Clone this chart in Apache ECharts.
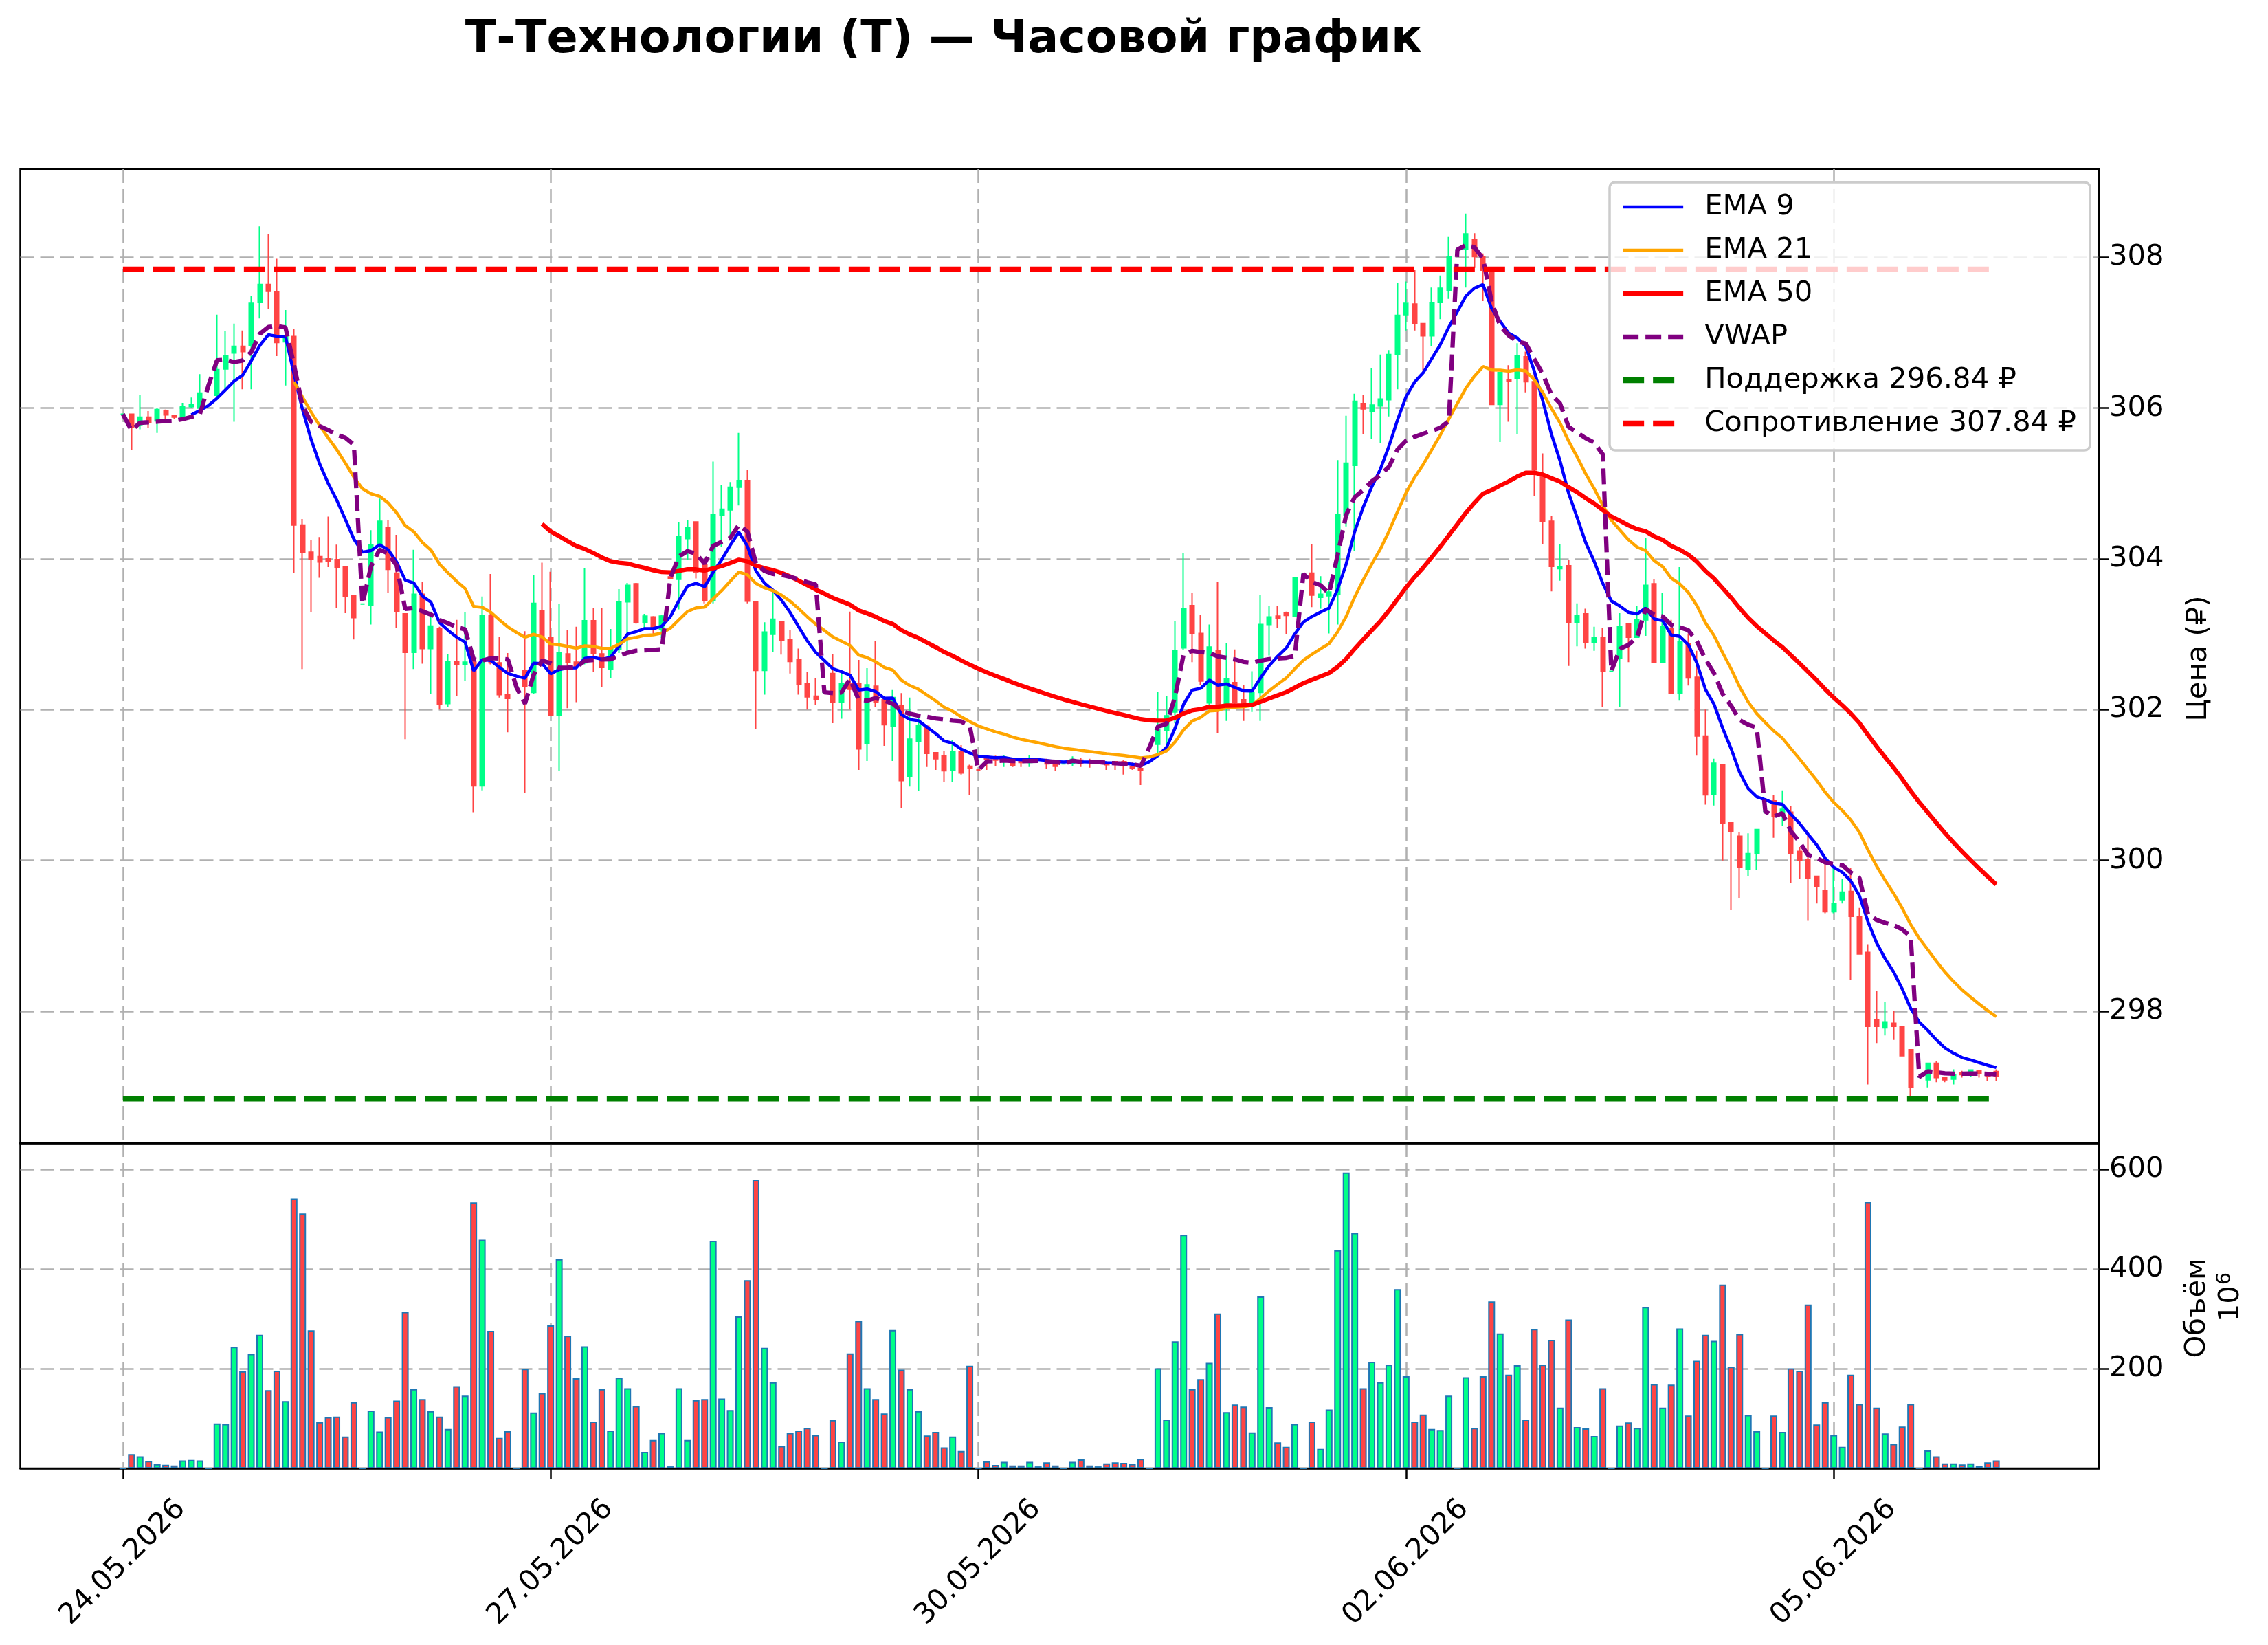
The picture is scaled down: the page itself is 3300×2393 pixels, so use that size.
<!DOCTYPE html>
<html>
<head>
<meta charset="utf-8">
<script src="https://cdn.jsdelivr.net/npm/echarts@6/dist/echarts.min.js"></script>
<style>
  html, body { margin: 0; padding: 0; background: #fff; }
  #chart { width: 3300px; height: 2393px; }
</style>
</head>
<body>
<div id="chart"></div>
<script>
// hourly candles, one slot per candle (slot 0 = first candle of 24.05.2026)
const opens = [
  305.92,305.92,305.78,305.88,305.83,305.97,305.90,305.85,306.02,306.00,
  306.30,306.17,306.52,306.73,306.82,306.83,307.40,307.64,307.54,306.88,306.95,304.45,304.09,304.03,304.00,303.99,303.89,303.51,
  303.40,303.38,304.19,304.42,303.81,303.27,302.76,303.53,302.81,303.07,302.08,302.64,302.60,302.63,300.99,303.25,302.62,302.20,
  302.30,302.52,302.23,303.31,302.96,301.93,302.74,302.63,302.62,303.18,302.74,302.54,302.80,303.43,303.67,303.16,303.23,303.07,
  303.76,303.73,304.27,304.49,303.92,303.45,304.58,304.65,304.95,305.04,303.43,302.52,303.00,303.17,302.93,302.67,302.35,302.18,
  302.23,302.48,302.10,302.35,302.35,301.55,302.31,302.13,301.78,302.05,301.11,301.58,301.78,301.43,301.39,301.20,301.44,301.25,
  301.20,301.38,301.36,301.33,301.32,301.33,301.30,301.35,301.33,301.29,
  301.28,301.29,301.33,301.31,301.30,301.30,301.31,301.31,301.25,301.22,
  301.50,301.54,301.72,301.97,302.82,303.38,303.01,302.09,302.78,302.08,302.36,302.13,302.08,302.23,303.13,303.24,303.28,303.24,
  303.80,303.81,303.49,303.51,303.53,304.58,305.24,306.06,305.96,306.03,306.11,306.71,307.24,307.38,307.12,306.96,307.40,307.56,
  308.10,308.11,308.24,308.01,307.83,306.05,306.38,306.39,306.68,306.35,305.10,304.50,303.87,303.91,303.16,303.27,302.89,302.96,
  302.51,302.68,303.14,302.96,303.19,303.67,302.63,303.08,302.22,302.87,302.43,301.65,300.88,301.27,300.50,300.32,299.88,300.09,
  300.65,300.79,300.63,300.64,300.12,300.01,299.79,299.60,299.32,299.48,299.59,299.25,298.78,297.89,297.78,297.84,297.80,297.49,
  297.13,297.09,297.31,297.12,297.10,297.19,297.19,297.21,297.18,297.20
];
const closes = [
  305.92,305.75,305.88,305.81,305.98,305.91,305.88,306.02,306.05,306.20,
  306.30,306.51,306.69,306.82,306.75,307.39,307.64,307.55,306.87,306.95,304.45,304.09,304.00,303.96,303.97,303.89,303.50,303.22,
  303.40,304.19,304.50,303.86,303.30,302.76,303.53,302.81,303.11,302.07,302.64,302.60,302.63,300.99,303.25,302.62,302.20,302.15,
  302.30,302.31,303.41,302.60,301.93,302.76,302.63,302.57,303.18,302.75,302.56,302.80,303.43,303.65,303.16,303.24,303.07,303.24,
  303.74,304.30,304.41,303.82,303.45,304.59,304.66,304.95,305.04,303.44,302.52,303.03,303.20,302.92,302.64,302.34,302.17,302.14,
  302.23,302.10,302.35,302.27,301.48,302.33,302.10,301.80,302.16,301.06,301.61,301.79,301.42,301.35,301.19,301.44,301.16,301.22,
  301.20,301.34,301.33,301.37,301.26,301.30,301.35,301.34,301.28,301.25,
  301.28,301.34,301.29,301.30,301.29,301.27,301.28,301.28,301.22,301.20,
  301.50,301.73,301.92,302.78,303.34,303.01,302.38,302.83,302.05,302.41,302.10,302.08,302.23,303.13,303.23,303.21,303.25,303.75,
  303.80,303.52,303.53,303.56,304.59,305.27,306.09,305.99,306.04,306.12,306.71,307.23,307.39,307.12,306.96,307.40,307.59,308.01,
  308.10,308.31,308.01,307.83,306.05,306.47,306.36,306.69,306.35,305.18,304.50,303.90,303.90,303.16,303.25,302.89,302.96,302.51,
  302.51,303.10,302.96,303.19,303.65,302.63,303.10,302.22,302.90,302.42,301.65,300.87,301.29,300.50,300.38,299.91,300.09,300.41,
  300.65,300.58,300.68,300.09,300.00,299.77,299.65,299.32,299.43,299.58,299.26,298.76,297.80,297.80,297.86,297.80,297.41,296.99,
  297.13,297.31,297.12,297.09,297.16,297.16,297.22,297.18,297.14,297.14
];
const lows = [
  305.92,305.45,305.72,305.74,305.67,305.84,305.85,305.83,306.00,305.98,
  306.30,306.15,306.25,305.82,306.25,306.25,307.19,307.31,306.69,306.30,303.81,302.54,303.29,303.75,303.89,303.35,303.28,302.93,
  303.40,303.13,304.12,303.55,303.08,301.61,302.54,302.61,302.21,302.00,302.03,302.18,302.38,300.64,300.93,302.60,302.16,301.70,
  302.30,300.89,302.21,302.58,301.92,301.19,302.02,302.10,302.60,302.50,302.30,302.42,302.75,302.75,303.14,303.06,302.98,302.95,
  303.74,303.33,303.99,303.74,303.41,303.41,304.16,304.30,304.71,303.41,301.74,302.20,302.76,302.73,302.48,302.20,302.00,302.06,
  302.23,301.82,301.88,302.00,301.20,301.32,302.04,301.52,301.32,300.70,300.98,300.92,301.24,301.20,301.04,301.04,301.14,300.87,
  301.20,301.20,301.25,301.24,301.24,301.24,301.24,301.33,301.22,301.19,
  301.28,301.25,301.24,301.23,301.28,301.20,301.20,301.14,301.20,301.00,
  301.50,301.36,301.54,301.82,302.79,302.63,302.33,302.05,301.69,301.85,302.08,301.85,301.97,301.85,302.72,303.08,303.00,303.23,
  303.80,303.36,303.34,303.01,303.13,304.43,304.11,305.66,305.59,305.54,305.89,306.25,307.03,307.03,306.50,306.82,307.18,307.45,
  308.10,307.60,307.86,307.42,306.04,305.55,305.82,305.65,306.21,304.84,304.20,303.57,303.71,302.58,302.84,302.81,302.78,302.04,
  302.51,302.04,302.63,302.96,302.98,302.63,302.62,302.22,302.12,302.32,301.39,300.74,300.73,300.00,299.34,299.50,299.79,299.88,
  300.65,300.30,300.46,299.70,299.76,299.20,299.43,299.30,299.30,299.43,298.41,298.76,297.03,297.58,297.68,297.62,297.41,296.87,
  297.13,296.99,297.06,297.06,297.03,297.12,297.13,297.12,297.08,297.07
];
const highs = [
  305.92,305.92,306.17,305.96,306.00,305.98,305.91,306.07,306.14,306.45,
  306.30,307.24,307.02,307.12,307.03,307.49,308.41,308.31,307.98,307.30,307.05,304.53,304.25,304.29,304.56,304.19,303.89,303.51,
  303.40,304.38,304.80,304.52,304.32,303.27,304.12,303.70,303.30,303.10,302.74,303.19,303.29,302.70,303.50,303.80,302.97,302.75,
  302.30,303.04,303.79,303.95,303.83,303.40,303.06,303.10,303.88,303.35,303.35,303.07,303.60,303.68,303.68,303.27,303.24,303.26,
  303.76,304.49,304.51,304.49,303.92,305.29,304.98,305.02,305.67,305.18,303.43,303.16,303.56,303.17,303.06,302.81,302.50,302.42,
  302.23,302.74,302.50,303.30,302.66,302.55,302.91,302.13,302.26,302.22,302.16,301.90,301.78,301.43,301.45,301.60,301.53,301.27,
  301.20,301.40,301.39,301.40,301.36,301.35,301.40,301.36,301.35,301.30,
  301.28,301.38,301.36,301.35,301.31,301.30,301.31,301.33,301.30,301.23,
  301.50,302.24,302.18,303.18,304.08,303.55,303.26,303.13,303.70,302.88,302.80,302.33,302.51,303.52,303.38,303.38,303.30,303.75,
  303.80,304.20,303.77,303.69,305.31,305.90,306.19,306.18,306.53,306.71,306.77,307.66,307.68,307.83,307.12,307.60,307.76,308.27,
  308.10,308.58,308.32,308.05,307.86,306.47,306.57,306.86,306.75,306.50,305.40,304.57,304.20,303.99,303.41,303.34,303.10,303.08,
  302.51,303.28,303.14,303.37,304.28,303.73,303.55,303.19,303.89,303.01,302.78,302.00,301.35,301.27,300.50,300.38,300.36,300.41,
  300.65,300.87,300.93,300.72,300.18,300.33,299.80,299.99,299.93,299.76,299.90,299.37,298.89,298.27,298.12,298.00,297.80,297.50,
  297.13,297.31,297.34,297.12,297.23,297.21,297.22,297.22,297.18,297.23
];
// volume, millions
const volumes = [
  0,28.6,24,14.7,8.8,7.4,6,16,17,16,
  0,90,89,244,195,230,268,157,196,135,542,512,277,93,103,104,64,133,
  0,116,74,103,136,314,159,139,115,104,79,165,146,534,459,276,61,75,
  0,200,112,151,287,420,266,181,245,94,159,76,182,161,125,33,57,71,
  4,161,57,137,139,457,140,117,305,378,580,242,173,45,71,76,81,67,
  0,97,54,231,296,161,139,110,278,198,159,115,66,73,42,64,35,206,
  0,14,7,13,6,6,13,4,12,6,
  0,13,18,6,4,10,12,11,9,19,
  0,201,98,255,469,159,179,212,311,113,128,124,72,345,123,52,43,89,
  0,94,39,118,438,594,473,161,214,173,208,360,185,94,108,79,77,146,
  0,183,81,185,335,271,188,207,98,280,208,258,122,299,83,80,65,161,
  0,86,92,81,324,169,122,168,281,106,216,268,256,369,204,270,107,75,
  0,106,73,201,196,329,88,133,67,43,188,129,535,122,70,49,84,129,
  0,36,24,10,10,8,10,5,12,16
];
// first slot of each trading day (VWAP resets there)
const dayStarts = [0, 10, 28, 46, 64, 82, 100, 110, 120, 138, 156, 174, 192, 210];
const tickSlots = [0, 50, 100, 150, 200];
const tickLabels = ['24.05.2026', '27.05.2026', '30.05.2026', '02.06.2026', '05.06.2026'];
const supportLevel = 296.84;
const resistanceLevel = 307.84;

const UP = '#00ff88', DOWN = '#ff4444';
const FONT = 'DejaVu Sans';
const FS = 41.7;

// x axis: category slots from -12 to 231, so slot s sits at index s + OFF
const X_MIN = -12, X_MAX = 231, OFF = -X_MIN;
const cats = [];
for (let s = X_MIN; s <= X_MAX; s++) cats.push(String(s));
const isTick = (idx) => tickSlots.indexOf(idx - OFF) >= 0;

// EMA seeded with the simple average of the first `span` closes
function ema(values, span) {
  const k = 2 / (span + 1);
  const out = [];
  let prev = 0;
  for (let i = 0; i < span; i++) prev += values[i] / span;
  out.push([span - 1 + OFF, prev]);
  for (let i = span; i < values.length; i++) {
    prev = k * values[i] + (1 - k) * prev;
    out.push([i + OFF, prev]);
  }
  return out;
}

function vwap() {
  const out = [];
  let pv = 0, vv = 0;
  for (let i = 0; i < closes.length; i++) {
    if (dayStarts.indexOf(i) >= 0) { pv = 0; vv = 0; }
    const tp = (highs[i] + lows[i] + closes[i]) / 3;
    pv += tp * volumes[i];
    vv += volumes[i];
    out.push([i + OFF, vv > 0 ? pv / vv : tp]);
  }
  return out;
}

const candleData = opens.map((o, i) => [i + OFF, o, closes[i], lows[i], highs[i]]);
const volData = volumes.map((v, i) => ({
  value: [i + OFF, v],
  itemStyle: { color: closes[i] >= opens[i] ? UP : DOWN }
}));
const lastX = opens.length - 1 + OFF;
const supportName = 'Поддержка ' + supportLevel.toFixed(2) + ' ₽';
const resistName = 'Сопротивление ' + resistanceLevel.toFixed(2) + ' ₽';

const gridLine = { show: true, lineStyle: { color: '#b0b0b0', width: 2.5, type: [20, 9] } };
const axisBlack = { show: true, lineStyle: { color: '#000', width: 2.5 } };
const legendItem = (name, w) => ({ name: name, itemStyle: { opacity: 0 }, lineStyle: { width: w } });

const chart = echarts.init(document.getElementById('chart'), null, { renderer: 'canvas' });
const option = {
  animation: false,
  backgroundColor: '#fff',
  textStyle: { fontFamily: FONT },
  grid: [
    { left: 29.5, top: 246, width: 3024.5, height: 1417, show: true, borderColor: '#000', borderWidth: 2.5, backgroundColor: 'transparent' },
    { left: 29.5, top: 1663, width: 3024.5, height: 473, show: true, borderColor: '#000', borderWidth: 2.5, backgroundColor: 'transparent' }
  ],
  xAxis: [
    {
      gridIndex: 0, type: 'category', data: cats, boundaryGap: false,
      axisLine: axisBlack, axisTick: { show: false }, axisLabel: { show: false },
      splitLine: Object.assign({ interval: (idx) => isTick(idx) }, gridLine)
    },
    {
      gridIndex: 1, type: 'category', data: cats, boundaryGap: false,
      axisLine: axisBlack,
      axisTick: { show: true, interval: (idx) => isTick(idx), length: 15, lineStyle: { color: '#000', width: 2.5 } },
      axisLabel: {
        show: true, interval: (idx) => isTick(idx), rotate: 45, margin: 137,
        align: 'center', verticalAlign: 'middle',
        fontSize: FS, color: '#000', fontFamily: FONT,
        formatter: (val) => tickLabels[tickSlots.indexOf(Number(val))] || ''
      },
      splitLine: Object.assign({ interval: (idx) => isTick(idx) }, gridLine)
    }
  ],
  yAxis: [
    {
      gridIndex: 0, type: 'value', position: 'right', min: 296.25, max: 309.17,
      minInterval: 2, maxInterval: 2, scale: true,
      axisLine: axisBlack,
      axisTick: { show: true, length: 15, lineStyle: { color: '#000', width: 2.5 } },
      axisLabel: { margin: 15, fontSize: FS, color: '#000', fontFamily: FONT, showMinLabel: false, showMaxLabel: false },
      splitLine: Object.assign({ showMinLine: false, showMaxLine: false }, gridLine)
    },
    {
      gridIndex: 1, type: 'value', position: 'right', min: 0, max: 653, interval: 200,
      axisLine: axisBlack,
      axisTick: { show: true, length: 15, lineStyle: { color: '#000', width: 2.5 } },
      axisLabel: { margin: 15, fontSize: FS, color: '#000', fontFamily: FONT, showMinLabel: false, showMaxLabel: false },
      splitLine: Object.assign({ showMinLine: false, showMaxLine: false }, gridLine)
    }
  ],
  legend: {
    orient: 'vertical', left: 2342, top: 265,
    padding: [11, 20, 14, 15],
    itemWidth: 88, itemHeight: 20, itemGap: 13,
    backgroundColor: 'rgba(255,255,255,0.8)',
    borderColor: '#cccccc', borderWidth: 3.5, borderRadius: 8,
    selectedMode: false,
    textStyle: { fontSize: FS, color: '#000', fontFamily: FONT, lineHeight: 50, padding: [0, 0, 0, 26] },
    data: [
      legendItem('EMA 9', 4.5), legendItem('EMA 21', 4.5), legendItem('EMA 50', 6.3),
      legendItem('VWAP', 6.3), legendItem(supportName, 8.3), legendItem(resistName, 8.3)
    ]
  },
  graphic: [
    { type: 'text', x: 1373, y: 59, style: { text: 'Т-Технологии (Т) — Часовой график', font: 'bold 66.7px "DejaVu Sans"', fill: '#000', textAlign: 'center', textVerticalAlign: 'middle' } },
    { type: 'text', x: 3199, y: 958, rotation: Math.PI / 2, style: { text: 'Цена (₽)', font: FS + 'px "DejaVu Sans"', fill: '#000', textAlign: 'center', textVerticalAlign: 'middle' } },
    { type: 'text', x: 3197, y: 1903, rotation: Math.PI / 2, style: { text: 'Объём', font: FS + 'px "DejaVu Sans"', fill: '#000', textAlign: 'center', textVerticalAlign: 'middle' } },
    {
      type: 'text', x: 3245, y: 1887, rotation: Math.PI / 2,
      style: {
        text: '{n|10}{s|6}', fill: '#000', textAlign: 'center', textVerticalAlign: 'middle',
        rich: {
          n: { fontSize: FS, fontFamily: FONT, lineHeight: 44, verticalAlign: 'bottom' },
          s: { fontSize: 29, fontFamily: FONT, lineHeight: 44, verticalAlign: 'top', padding: [0, 0, 14, 1] }
        }
      }
    }
  ],
  series: [
    {
      type: 'candlestick', xAxisIndex: 0, yAxisIndex: 0, data: candleData,
      encode: { x: 0, y: [1, 2, 3, 4] },
      barWidth: 6.5,
      itemStyle: { color: UP, color0: DOWN, borderColor: UP, borderColor0: DOWN, borderWidth: 2 }
    },
    {
      name: 'EMA 9', type: 'line', data: ema(closes, 9), symbol: 'none', showSymbol: false,
      lineStyle: { color: '#0000ff', width: 4.5 }, itemStyle: { color: '#0000ff' }
    },
    {
      name: 'EMA 21', type: 'line', data: ema(closes, 21), symbol: 'none', showSymbol: false,
      lineStyle: { color: '#ffa500', width: 4.5 }, itemStyle: { color: '#ffa500' }
    },
    {
      name: 'EMA 50', type: 'line', data: ema(closes, 50), symbol: 'none', showSymbol: false,
      lineStyle: { color: '#ff0000', width: 6.3 }, itemStyle: { color: '#ff0000' }
    },
    {
      name: 'VWAP', type: 'line', data: vwap(), symbol: 'none', showSymbol: false,
      lineStyle: { color: '#800080', width: 6.3, type: [23, 10] }, itemStyle: { color: '#800080' }
    },
    {
      name: supportName, type: 'line', symbol: 'none', showSymbol: false,
      data: [[OFF, supportLevel], [lastX, supportLevel]],
      lineStyle: { color: '#008000', width: 8.3, type: [31, 13] }, itemStyle: { color: '#008000' }
    },
    {
      name: resistName, type: 'line', symbol: 'none', showSymbol: false,
      data: [[OFF, resistanceLevel], [lastX, resistanceLevel]],
      lineStyle: { color: '#ff0000', width: 8.3, type: [31, 13] }, itemStyle: { color: '#ff0000' }
    },
    {
      type: 'bar', xAxisIndex: 1, yAxisIndex: 1, data: volData, barWidth: 10,
      itemStyle: { borderColor: '#1f77b4', borderWidth: 2 }
    }
  ]
};
chart.setOption(option);
</script>
</body>
</html>
